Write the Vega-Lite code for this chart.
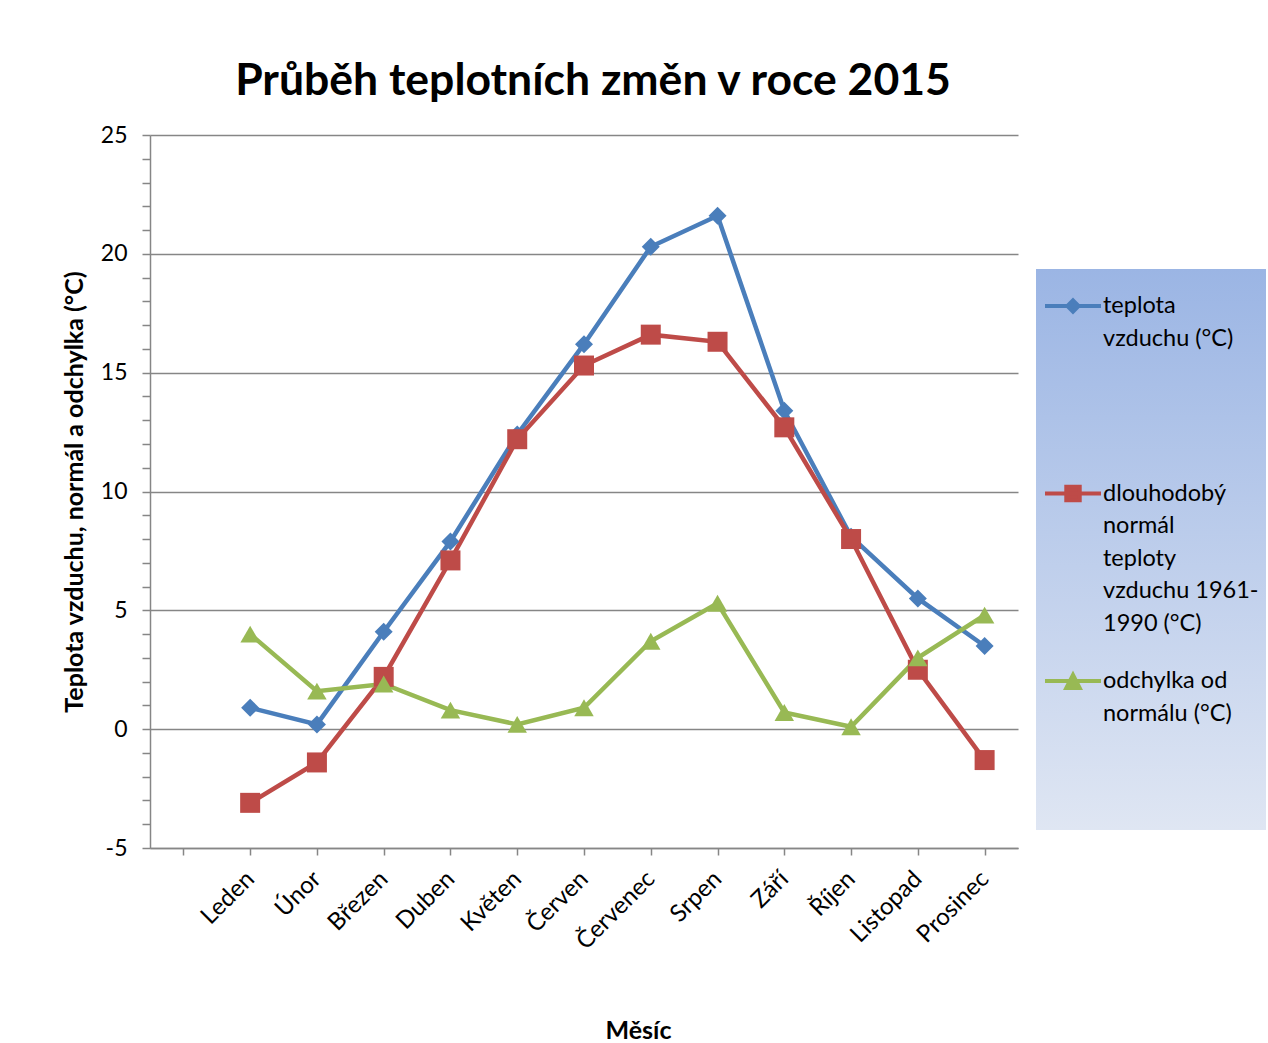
{
  "$schema": "https://vega.github.io/schema/vega-lite/v6.json",
  "width": 868,
  "height": 713,
  "autosize": {"type": "none"},
  "padding": {"left": 150, "top": 135, "right": 250, "bottom": 195},
  "background": "white",
  "config": {
    "view": {"stroke": null},
    "font": "Lato"
  },
  "title": {
    "text": "Průběh teplotních změn v roce 2015",
    "font": "Lato",
    "fontSize": 44.5,
    "fontWeight": "bold",
    "color": "black",
    "frame": "group",
    "offset": 41,
    "dx": 9,
    "dy": 56,
    "baseline": "alphabetic"
  },
  "data": {
    "values": [
      {"mesic": "Leden", "m": 1, "serie": "teplota vzduchu (°C)", "hodnota": 0.9},
      {"mesic": "Únor", "m": 2, "serie": "teplota vzduchu (°C)", "hodnota": 0.2},
      {"mesic": "Březen", "m": 3, "serie": "teplota vzduchu (°C)", "hodnota": 4.1},
      {"mesic": "Duben", "m": 4, "serie": "teplota vzduchu (°C)", "hodnota": 7.9},
      {"mesic": "Květen", "m": 5, "serie": "teplota vzduchu (°C)", "hodnota": 12.4},
      {"mesic": "Červen", "m": 6, "serie": "teplota vzduchu (°C)", "hodnota": 16.2},
      {"mesic": "Červenec", "m": 7, "serie": "teplota vzduchu (°C)", "hodnota": 20.3},
      {"mesic": "Srpen", "m": 8, "serie": "teplota vzduchu (°C)", "hodnota": 21.6},
      {"mesic": "Září", "m": 9, "serie": "teplota vzduchu (°C)", "hodnota": 13.4},
      {"mesic": "Říjen", "m": 10, "serie": "teplota vzduchu (°C)", "hodnota": 8.1},
      {"mesic": "Listopad", "m": 11, "serie": "teplota vzduchu (°C)", "hodnota": 5.5},
      {"mesic": "Prosinec", "m": 12, "serie": "teplota vzduchu (°C)", "hodnota": 3.5},
      {"mesic": "Leden", "m": 1, "serie": "dlouhodobý normál teploty vzduchu 1961-1990 (°C)", "hodnota": -3.1},
      {"mesic": "Únor", "m": 2, "serie": "dlouhodobý normál teploty vzduchu 1961-1990 (°C)", "hodnota": -1.4},
      {"mesic": "Březen", "m": 3, "serie": "dlouhodobý normál teploty vzduchu 1961-1990 (°C)", "hodnota": 2.2},
      {"mesic": "Duben", "m": 4, "serie": "dlouhodobý normál teploty vzduchu 1961-1990 (°C)", "hodnota": 7.1},
      {"mesic": "Květen", "m": 5, "serie": "dlouhodobý normál teploty vzduchu 1961-1990 (°C)", "hodnota": 12.2},
      {"mesic": "Červen", "m": 6, "serie": "dlouhodobý normál teploty vzduchu 1961-1990 (°C)", "hodnota": 15.3},
      {"mesic": "Červenec", "m": 7, "serie": "dlouhodobý normál teploty vzduchu 1961-1990 (°C)", "hodnota": 16.6},
      {"mesic": "Srpen", "m": 8, "serie": "dlouhodobý normál teploty vzduchu 1961-1990 (°C)", "hodnota": 16.3},
      {"mesic": "Září", "m": 9, "serie": "dlouhodobý normál teploty vzduchu 1961-1990 (°C)", "hodnota": 12.7},
      {"mesic": "Říjen", "m": 10, "serie": "dlouhodobý normál teploty vzduchu 1961-1990 (°C)", "hodnota": 8.0},
      {"mesic": "Listopad", "m": 11, "serie": "dlouhodobý normál teploty vzduchu 1961-1990 (°C)", "hodnota": 2.5},
      {"mesic": "Prosinec", "m": 12, "serie": "dlouhodobý normál teploty vzduchu 1961-1990 (°C)", "hodnota": -1.3},
      {"mesic": "Leden", "m": 1, "serie": "odchylka od normálu (°C)", "hodnota": 4.0},
      {"mesic": "Únor", "m": 2, "serie": "odchylka od normálu (°C)", "hodnota": 1.6},
      {"mesic": "Březen", "m": 3, "serie": "odchylka od normálu (°C)", "hodnota": 1.9},
      {"mesic": "Duben", "m": 4, "serie": "odchylka od normálu (°C)", "hodnota": 0.8},
      {"mesic": "Květen", "m": 5, "serie": "odchylka od normálu (°C)", "hodnota": 0.2},
      {"mesic": "Červen", "m": 6, "serie": "odchylka od normálu (°C)", "hodnota": 0.9},
      {"mesic": "Červenec", "m": 7, "serie": "odchylka od normálu (°C)", "hodnota": 3.7},
      {"mesic": "Srpen", "m": 8, "serie": "odchylka od normálu (°C)", "hodnota": 5.3},
      {"mesic": "Září", "m": 9, "serie": "odchylka od normálu (°C)", "hodnota": 0.7},
      {"mesic": "Říjen", "m": 10, "serie": "odchylka od normálu (°C)", "hodnota": 0.1},
      {"mesic": "Listopad", "m": 11, "serie": "odchylka od normálu (°C)", "hodnota": 3.0},
      {"mesic": "Prosinec", "m": 12, "serie": "odchylka od normálu (°C)", "hodnota": 4.8}
    ]
  },
  "encoding": {
    "x": {
      "field": "mesic",
      "type": "ordinal",
      "scale": {
        "type": "point",
        "padding": 0.5,
        "domain": [" ", "Leden", "Únor", "Březen", "Duben", "Květen", "Červen", "Červenec", "Srpen", "Září", "Říjen", "Listopad", "Prosinec"]
      },
      "axis": {
        "title": "Měsíc",
        "titleFont": "Lato",
        "titleFontSize": 25,
        "titleFontWeight": "bold",
        "titleColor": "black",
        "titleX": 488,
        "titleY": 182,
        "titleBaseline": "middle",
        "labelAngle": -45,
        "labelAlign": "right",
        "labelBaseline": "middle",
        "labelFont": "Lato",
        "labelFontSize": 24,
        "labelColor": "black",
        "labelPadding": 20,
        "tickSize": 7,
        "tickColor": "#868686",
        "tickWidth": 1.5,
        "domainColor": "#868686",
        "domainWidth": 1.5,
        "grid": false
      }
    },
    "y": {
      "field": "hodnota",
      "type": "quantitative",
      "scale": {"domain": [-5, 25], "nice": false, "zero": false},
      "axis": {
        "title": "Teplota vzduchu, normál a odchylka (°C)",
        "titleFont": "Lato",
        "titleFontSize": 25,
        "titleFontWeight": "bold",
        "titleColor": "black",
        "titlePadding": 13,
        "values": [-5, -4, -3, -2, -1, 0, 1, 2, 3, 4, 5, 6, 7, 8, 9, 10, 11, 12, 13, 14, 15, 16, 17, 18, 19, 20, 21, 22, 23, 24, 25],
        "labelExpr": "datum.value % 5 === 0 ? '' + datum.value : ''",
        "labelFont": "Lato",
        "labelFontSize": 23,
        "labelColor": "black",
        "labelPadding": 15,
        "tickSize": 8,
        "tickColor": "#868686",
        "tickWidth": 1.5,
        "domainColor": "#868686",
        "domainWidth": 1.5,
        "grid": true,
        "gridColor": "#868686",
        "gridWidth": 1.3,
        "gridOpacity": {"condition": {"test": "datum.value % 5 !== 0", "value": 0}, "value": 1}
      }
    },
    "color": {
      "field": "serie",
      "type": "nominal",
      "scale": {
        "domain": ["teplota vzduchu (°C)", "dlouhodobý normál teploty vzduchu 1961-1990 (°C)", "odchylka od normálu (°C)"],
        "range": ["#4a7ebb", "#be4b48", "#98b954"]
      },
      "legend": {
        "orient": "none",
        "legendX": 886,
        "legendY": 134,
        "title": null,
        "padding": 7,
        "symbolType": "circle",
        "symbolSize": 3136,
        "symbolStrokeWidth": 4,
        "labelFont": "Lato",
        "labelFontSize": 23.5,
        "labelColor": "black",
        "labelOffset": 0,
        "labelLimit": 400,
        "labelBaseline": "top",
        "rowPadding": 15.5,
        "labelExpr": "datum.value === 'teplota vzduchu (°C)' ? ['teplota', 'vzduchu (°C)', '', '', ''] : datum.value === 'odchylka od normálu (°C)' ? ['odchylka od', 'normálu (°C)', '', '', ''] : ['dlouhodobý', 'normál', 'teploty', 'vzduchu 1961-', '1990 (°C)']",
        "encode": {
          "symbols": {
            "update": {
              "shape": {"signal": "datum.index === 0 ? 'M-1,0H1M0,-0.2L0.2,0L0,0.2L-0.2,0Z' : datum.index === 1 ? 'M-1,0H1M-0.24,-0.24H0.24V0.24H-0.24Z' : 'M-1,0H1M0,-0.22L0.24,0.25L-0.24,0.25Z'"},
              "size": {"value": 3136},
              "fill": {"scale": "color", "field": "value"},
              "stroke": {"scale": "color", "field": "value"},
              "strokeWidth": {"value": 4},
              "opacity": {"value": 1}
            }
          },
          "labels": {
            "update": {
              "lineHeight": {"value": 32.5},
              "dy": {"value": -12}
            }
          },
          "legend": {
            "update": {
              "fill": {"value": {"gradient": "linear", "x1": 0, "y1": 0, "x2": 0, "y2": 1, "stops": [{"offset": 0, "color": "#9bb5e4"}, {"offset": 1, "color": "#dfe6f3"}]}}
            }
          }
        }
      }
    }
  },
  "layer": [
    {
      "mark": {"type": "line", "strokeWidth": 4.5},
      "encoding": {
        "order": {"field": "m", "type": "quantitative"}
      }
    },
    {
      "transform": [{"filter": "datum.serie === 'teplota vzduchu (°C)'"}],
      "mark": {"type": "point", "filled": true, "opacity": 1, "shape": "diamond", "size": 324}
    },
    {
      "transform": [{"filter": "datum.serie === 'dlouhodobý normál teploty vzduchu 1961-1990 (°C)'"}],
      "mark": {"type": "point", "filled": true, "opacity": 1, "shape": "square", "size": 400}
    },
    {
      "transform": [{"filter": "datum.serie === 'odchylka od normálu (°C)'"}],
      "mark": {"type": "point", "filled": true, "opacity": 1, "shape": "triangle-up", "size": 380}
    }
  ]
}
